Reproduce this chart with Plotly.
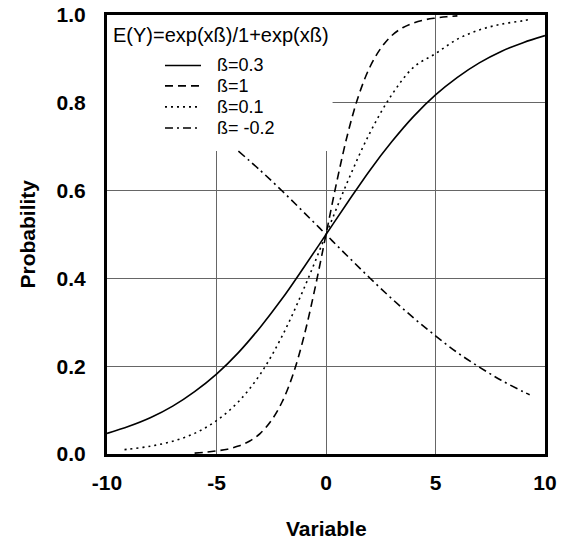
import plotly.graph_objects as go

# Values
x_solid = [-10, -9, -8, -7, -6, -5, -4, -3, -2, -1, 0, 1, 2, 3, 4, 5, 6, 7, 8, 9, 10]
y_solid = [0.047, 0.063, 0.083, 0.109, 0.142, 0.182, 0.231, 0.289, 0.354, 0.426, 0.5,
           0.574, 0.646, 0.711, 0.769, 0.818, 0.858, 0.891, 0.917, 0.937, 0.953]

x_dash = [-6, -5.5, -5, -4.5, -4, -3.5, -3, -2.5, -2, -1.5, -1, -0.5, 0, 0.5, 1, 1.5,
          2, 2.5, 3, 3.5, 4, 4.5, 5, 5.5, 6]
y_dash = [0.002, 0.004, 0.007, 0.011, 0.018, 0.029, 0.047, 0.076, 0.119, 0.182, 0.269,
          0.378, 0.5, 0.622, 0.731, 0.818, 0.881, 0.924, 0.953, 0.971, 0.982, 0.989,
          0.993, 0.996, 0.998]

x_dot = [-9.2, -9, -8, -7, -6, -5, -4, -3, -2, -1, 0, 1, 2, 3, 4, 5, 6, 7, 8, 9, 9.3]
y_dot = [0.010, 0.011, 0.018, 0.029, 0.047, 0.076, 0.119, 0.182, 0.269, 0.378, 0.5,
         0.622, 0.731, 0.818, 0.881, 0.912, 0.945, 0.966, 0.979, 0.987, 0.990]

x_dashdot = [-4, -3, -2, -1, 0, 1, 2, 3, 4, 5, 6, 7, 8, 9, 9.3]
y_dashdot = [0.690, 0.646, 0.599, 0.550, 0.5, 0.450, 0.401, 0.354, 0.310, 0.269,
             0.231, 0.198, 0.168, 0.142, 0.135]

series_names = ["ß=0.3", "ß=1", "ß=0.1", "ß= -0.2"]
legend_title = "E(Y)=exp(xß)/1+exp(xß)"
x_ticks = [-10, -5, 0, 5, 10]
y_ticks = [0.0, 0.2, 0.4, 0.6, 0.8, 1.0]

FONT = "Liberation Sans, Arial, sans-serif"
dashes = ["solid", "8px,5px", "2px,4px", "8px,4px,2px,4px"]
series = [(x_solid, y_solid), (x_dash, y_dash), (x_dot, y_dot), (x_dashdot, y_dashdot)]

fig = go.Figure()
for (xs, ys), nm, d in zip(series, series_names, dashes):
    fig.add_trace(go.Scatter(x=xs, y=ys, mode="lines", name=nm, showlegend=False,
                             line=dict(color="black", width=1.6, dash=d, shape="spline")))

# white box behind the legend hiding the grid
fig.add_shape(type="rect", xref="x", yref="y", x0=-10, x1=0.3, y0=0.69, y1=1.0,
              fillcolor="white", line=dict(width=0), layer="between")

# hand-drawn legend
fig.add_annotation(text=legend_title, xref="paper", yref="paper", x=0.009, y=0.955,
                   xanchor="left", yanchor="middle", showarrow=False,
                   font=dict(family=FONT, size=20, color="black"))
leg_y = [0.885, 0.8385, 0.7907, 0.7426]
for nm, d, yy in zip(series_names, dashes, leg_y):
    fig.add_shape(type="line", xref="paper", yref="paper", x0=0.1324, x1=0.2146, y0=yy, y1=yy,
                  line=dict(color="black", width=1.6, dash=d))
    fig.add_annotation(text=nm, xref="paper", yref="paper", x=0.2466, y=yy,
                       xanchor="left", yanchor="middle", showarrow=False,
                       font=dict(family=FONT, size=18, color="black"))

# axis titles
fig.add_annotation(text="<b>Variable</b>", xref="paper", yref="paper", x=0.5, y=-0.1686,
                   xanchor="center", yanchor="middle", showarrow=False,
                   font=dict(family=FONT, size=21, color="black"))
fig.add_annotation(text="<b>Probability</b>", xref="paper", yref="paper", x=-0.1826, y=0.5,
                   xanchor="center", yanchor="middle", showarrow=False, textangle=-90,
                   font=dict(family=FONT, size=21, color="black"))

axis_common = dict(showline=True, linecolor="black", linewidth=3, mirror=True,
                   showgrid=True, gridcolor="#666666", gridwidth=1, zeroline=False,
                   automargin=False, ticks="", ticklabeloverflow="allow",
                   tickfont=dict(family=FONT, size=21, color="black", weight="bold"))
fig.update_xaxes(range=[-10, 10], tickvals=x_ticks, ticktext=[str(v) for v in x_ticks],
                 ticklabelstandoff=8, **axis_common)
fig.update_yaxes(range=[0, 1], tickvals=y_ticks, ticktext=[f"{v:.1f}" for v in y_ticks],
                 ticklabelstandoff=14, **axis_common)

fig.update_layout(
    width=565, height=542,
    margin=dict(l=107, r=20, t=15, b=88),
    paper_bgcolor="white", plot_bgcolor="white",
    showlegend=False,
)

fig.write_html("out.html", config={"displayModeBar": False, "staticPlot": True},
               post_script="document.body.style.margin='0';document.body.style.overflow='hidden';")
